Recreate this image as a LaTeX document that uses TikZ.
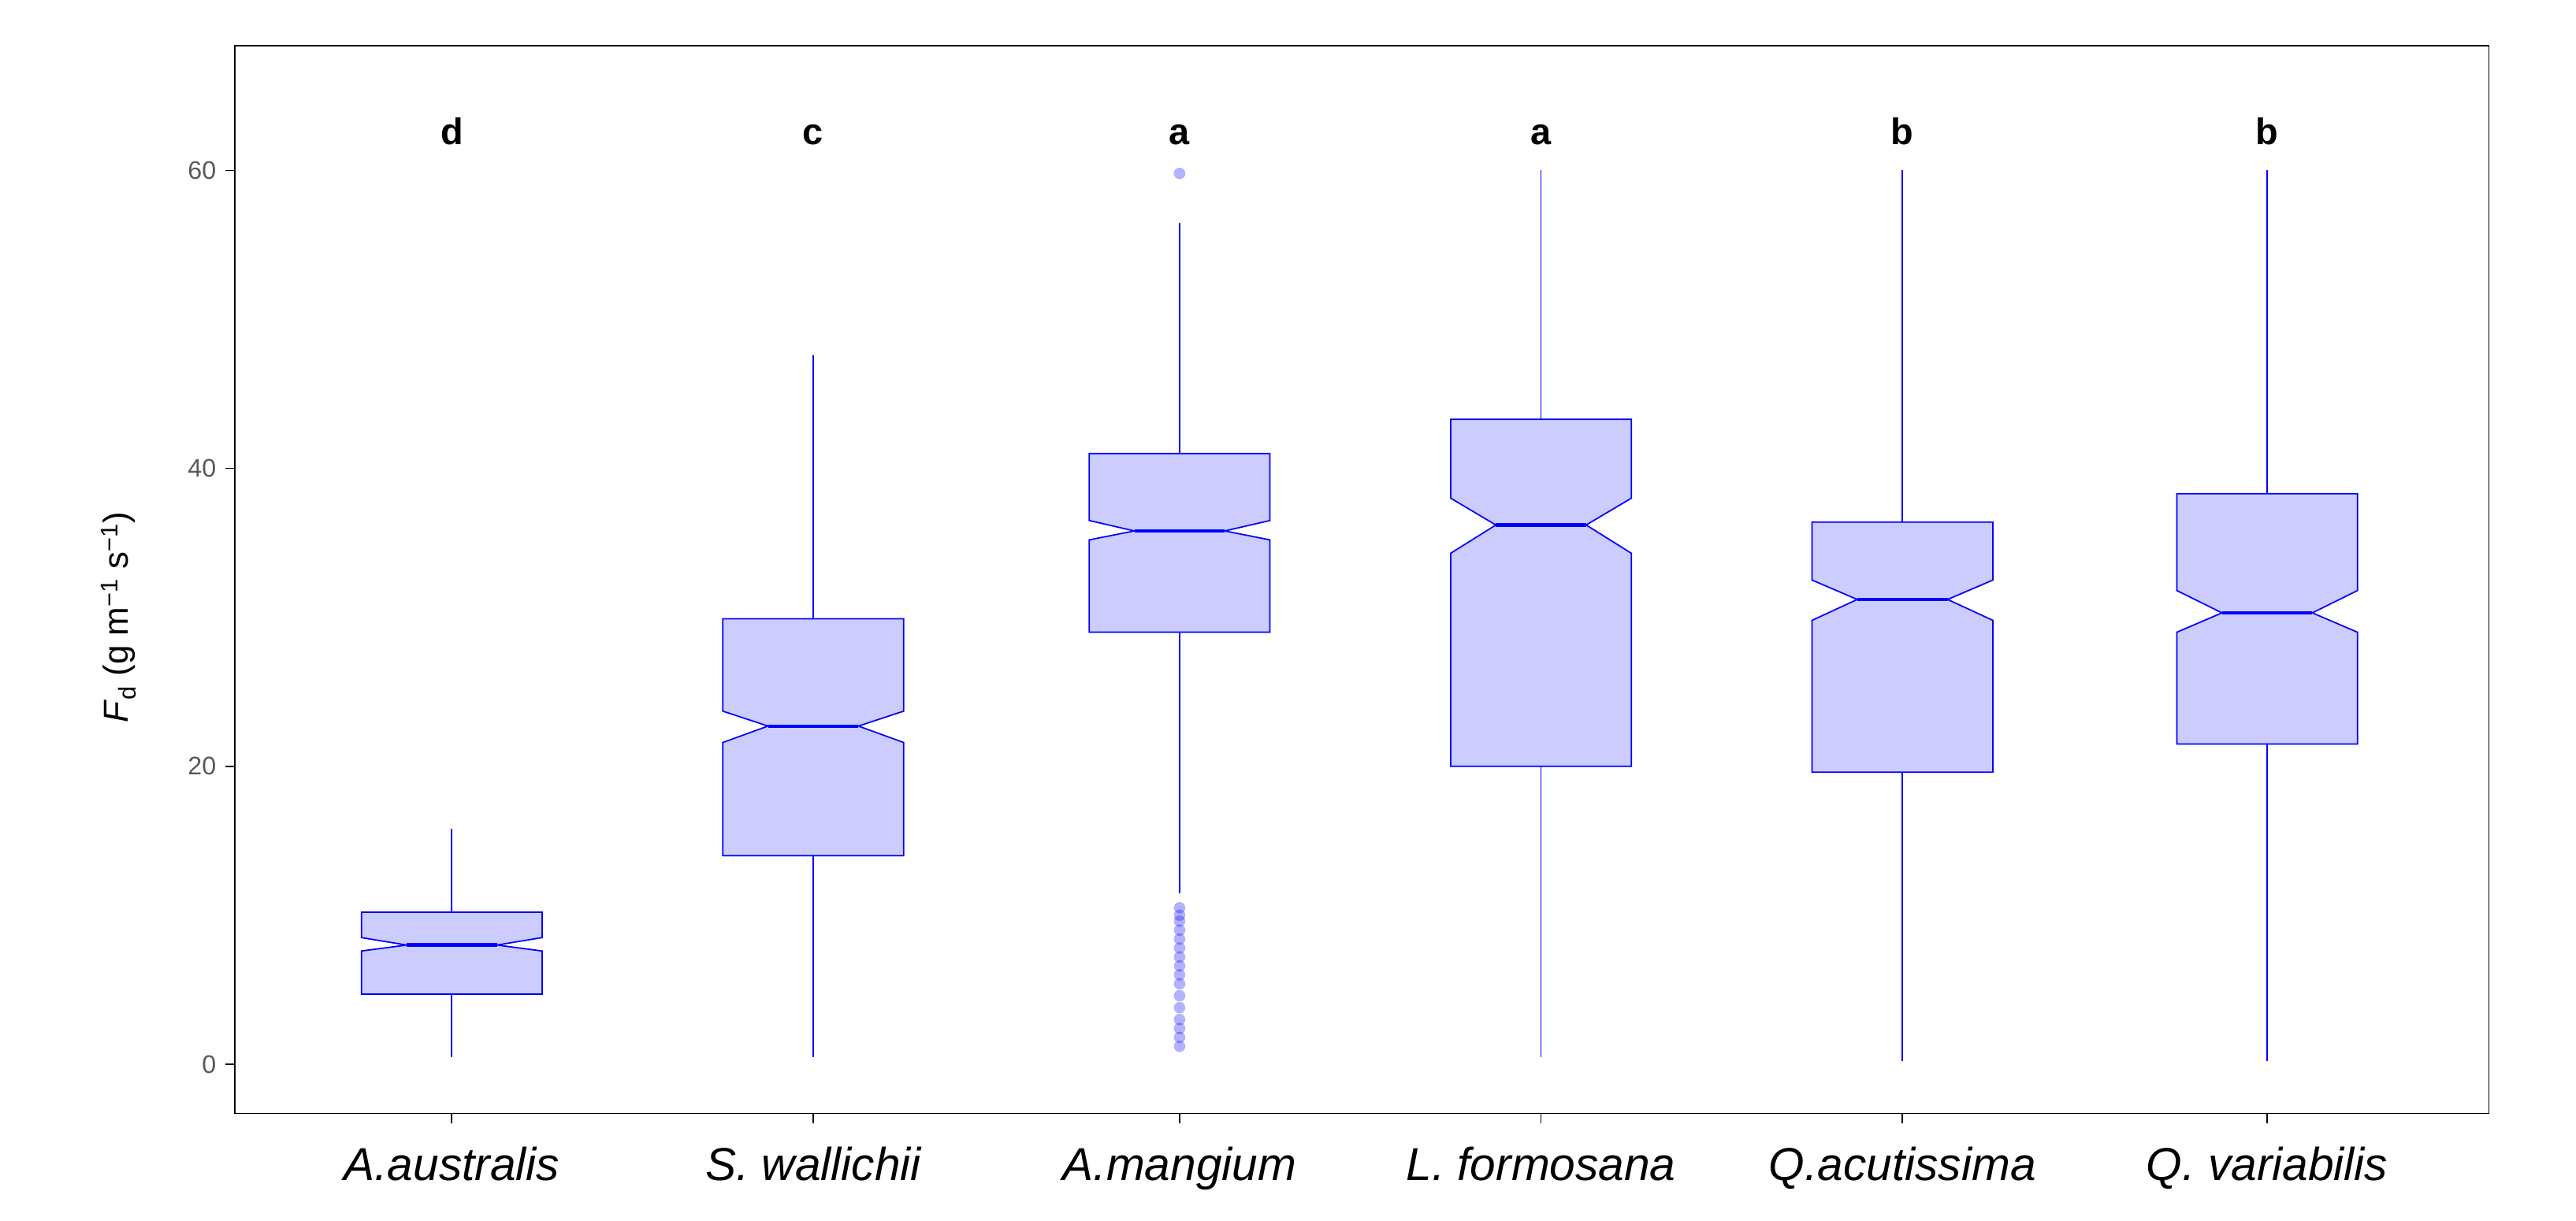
\documentclass[tikz,border=0pt]{standalone}
\usepackage{fontspec}
\setmainfont{Liberation Sans}
\begin{document}
\begin{tikzpicture}[x=0.05cm,y=0.05cm,
  box/.style={draw=blue,fill=blue!20,line width=1.2pt,line join=miter},
  wh/.style={draw=blue,line width=1.2pt},
  med/.style={draw=blue,line width=3pt},
  outl/.style={circle,fill=blue,fill opacity=0.3,inner sep=0pt,minimum size=10pt},
  tick/.style={font=\fontsize{22}{24}\selectfont,text=black!65,anchor=east},
  xl/.style={font=\fontsize{40}{44}\selectfont\itshape,anchor=base},
  let/.style={font=\fontsize{32}{36}\selectfont\bfseries,anchor=base}]
\useasboundingbox (0,0) rectangle (1568,743);
\def\V#1{(95+9.07*(#1))}
\newcommand\bx[9]{% name cx wlo q1 nlo med nhi q3 whi
  \draw[wh] (#2,{\V{#3}}) -- (#2,{\V{#4}});
  \draw[wh] (#2,{\V{#8}}) -- (#2,{\V{#9}});
  \draw[box] ({#2-55},{\V{#4}}) -- ({#2-55},{\V{#5}}) -- ({#2-27.5},{\V{#6}}) -- ({#2-55},{\V{#7}}) -- ({#2-55},{\V{#8}}) -- ({#2+55},{\V{#8}}) -- ({#2+55},{\V{#7}}) -- ({#2+27.5},{\V{#6}}) -- ({#2+55},{\V{#5}}) -- ({#2+55},{\V{#4}}) -- cycle;
  \draw[med] ({#2-27.5},{\V{#6}}) -- ({#2+27.5},{\V{#6}});
  \draw[line width=1.2pt] (#2,65) -- (#2,59);
}
\bx{b1}{275}{0.5}{4.7}{7.6}{8.0}{8.5}{10.2}{15.8}
\bx{b2}{495}{0.5}{14}{21.6}{22.7}{23.7}{29.9}{47.6}
\bx{b3}{718}{11.5}{29}{35.2}{35.8}{36.5}{41}{56.5}
\bx{b4}{938}{0.5}{20}{34.3}{36.2}{38}{43.3}{60}
\bx{b5}{1158}{0.2}{19.6}{29.8}{31.2}{32.5}{36.4}{60}
\bx{b6}{1380}{0.2}{21.5}{29}{30.3}{31.8}{38.3}{60}
\foreach \v [count=\i] in {59.8,10.5,10.0,9.6,9.0,8.4,7.8,7.2,6.6,6.0,5.4,4.6,3.8,3.0,2.4,1.8,1.2}
  \node[outl] (o\i) at (718,{\V{\v}}) {};
\draw[line width=1.2pt] (143,65) rectangle (1515,715);
\foreach \v in {0,20,40,60}{
  \draw[line width=1.2pt] (143,{\V{\v}}) -- (137,{\V{\v}});
  \node[tick] (t\v) at (134,{\V{\v}}) {\v};}
\node[rotate=90,font=\fontsize{30}{34}\selectfont] (yt) at (72,{\V{30}}) {\textit{F}\textsubscript{d} (g m\textsuperscript{−1} s\textsuperscript{−1})};
\foreach \x/\n/\l in {275/A.australis/d,495/S. wallichii/c,718/A.mangium/a,938/L. formosana/a,1158/Q.acutissima/b,1380/Q. variabilis/b}{
  \node[xl] (x\x) at (\x,24) {\n};
  \node[let] (l\x) at (\x,655) {\l};}
\end{tikzpicture}
\end{document}
